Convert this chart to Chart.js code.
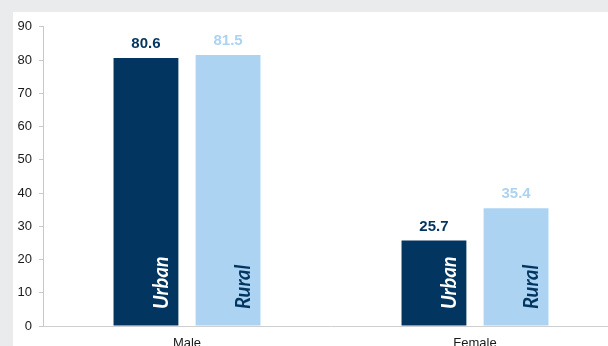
<!DOCTYPE html>
<html>
<head>
<meta charset="utf-8">
<script src="https://cdn.jsdelivr.net/npm/chart.js@4.4.1/dist/chart.umd.min.js"></script>
<style>
  html, body { margin: 0; padding: 0; width: 608px; height: 346px; overflow: hidden; background: #eaebed; }
  #panel { position: absolute; left: 13px; top: 12px; width: 606px; height: 350px; background: #fff; }
  #mychart { position: absolute; left: 0; top: 0; }
</style>
</head>
<body>
<div id="panel"><canvas id="mychart" width="606" height="350"></canvas></div>
<script>
// labour force participation by sex, urban vs rural
var categories = ["Male", "Female"]
var urban = [80.6, 25.7]
var rural = [81.5, 35.4]
var seriesNames = ["Urban", "Rural"]
var yTicks = [0, 10, 20, 30, 40, 50, 60, 70, 80, 90]

var navy = "#02355f"
var sky = "#acd3f1"

// value above each bar + rotated series name inside it
var barText = {
  id: "barText",
  afterDatasetsDraw: function(chart) {
    var ctx = chart.ctx
    var y0 = chart.scales.y.getPixelForValue(0)
    chart.data.datasets.forEach(function(ds, i) {
      var meta = chart.getDatasetMeta(i)
      meta.data.forEach(function(bar, j) {
        ctx.save()
        ctx.fillStyle = ds.backgroundColor
        ctx.font = "bold 15px 'Liberation Sans', Arial, sans-serif"
        ctx.textAlign = "center"
        ctx.textBaseline = "alphabetic"
        ctx.fillText(ds.data[j].toFixed(1), bar.x, bar.y - 10)
        ctx.restore()

        ctx.save()
        ctx.translate(bar.x + 22, y0 - 17)
        ctx.rotate(-Math.PI / 2)
        ctx.fillStyle = i == 0 ? "#ffffff" : navy
        ctx.font = "italic bold 20px Lato, 'Open Sans', sans-serif"
        ctx.textAlign = "left"
        ctx.textBaseline = "alphabetic"
        ctx.fillText(ds.label, 0, 0)
        ctx.restore()
      })
    })
  }
}

var mychart = document.getElementById("mychart").getContext("2d")
var chart = new Chart(mychart, {
  type: "bar",
  data: {
    labels: categories,
    datasets: [
      { label: seriesNames[0], data: urban, backgroundColor: navy, categoryPercentage: 0.57, barPercentage: 0.79 },
      { label: seriesNames[1], data: rural, backgroundColor: sky, categoryPercentage: 0.57, barPercentage: 0.79 }
    ]
  },
  options: {
    responsive: false,
    animation: false,
    layout: { padding: { top: 12, right: 0, left: 0, bottom: 0 } },
    plugins: { legend: { display: false }, tooltip: { enabled: false } },
    scales: {
      x: {
        afterFit: function(s) { s.height = 36 },
        grid: { display: false, drawTicks: false },
        border: { color: "#cfcfcf", width: 1 },
        ticks: { color: "#1a1a1a", padding: 10, font: { family: "'Liberation Sans', Arial", size: 13 } }
      },
      y: {
        min: 0,
        max: 90,
        afterFit: function(s) { s.width = 30 },
        afterBuildTicks: function(s) { s.ticks = yTicks.map(function(v) { return { value: v } }) },
        grid: { drawOnChartArea: false, tickLength: 4, color: "#c8c8c8" },
        border: { color: "#c8c8c8", width: 1 },
        ticks: { color: "#1a1a1a", padding: 7, font: { family: "'Liberation Sans', Arial", size: 13 } }
      }
    }
  },
  plugins: [barText]
})
</script>
</body>
</html>
